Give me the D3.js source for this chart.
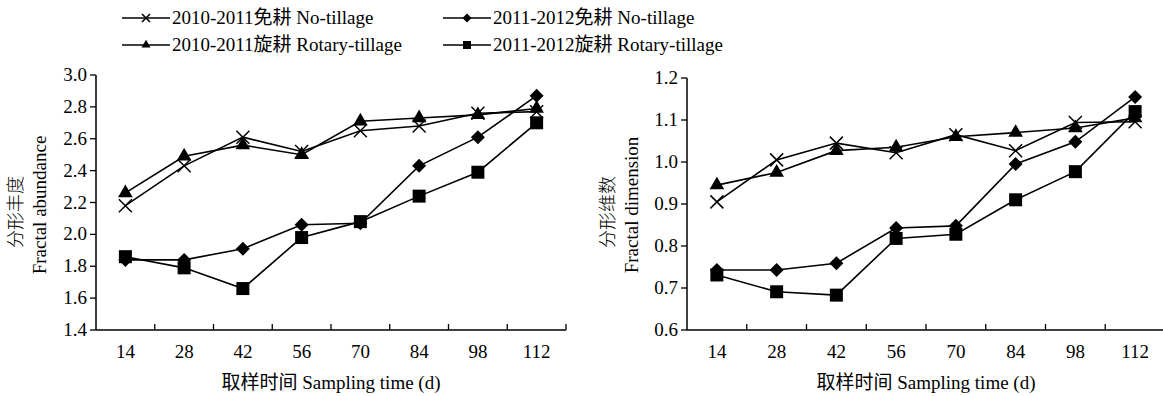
<!DOCTYPE html>
<html>
<head>
<meta charset="utf-8">
<script src="https://cdn.jsdelivr.net/npm/d3@7"></script>
<style>
  body { margin: 0; background: #fff; }
  svg text { font-family: "Liberation Serif", "Noto Sans CJK SC", serif; fill: #000; }
</style>
</head>
<body>
<svg id="chart" width="1163" height="396"></svg>
<script>
// sampling days
const days = ["14", "28", "42", "56", "70", "84", "98", "112"];

const seriesNames = [
  "2010-2011免耕 No-tillage",
  "2010-2011旋耕 Rotary-tillage",
  "2011-2012免耕 No-tillage",
  "2011-2012旋耕 Rotary-tillage"
];
const seriesSymbols = ["cross", "triangle", "diamond", "square"];

// fractal abundance
const abund1011NT = [2.18, 2.43, 2.61, 2.52, 2.65, 2.68, 2.76, 2.77];
const abund1011RT = [2.26, 2.49, 2.56, 2.50, 2.71, 2.73, 2.75, 2.79];
const abund1112NT = [1.84, 1.84, 1.91, 2.06, 2.07, 2.43, 2.61, 2.87];
const abund1112RT = [1.86, 1.79, 1.66, 1.98, 2.08, 2.24, 2.39, 2.70];

// fractal dimension
const dim1011NT = [0.905, 1.005, 1.045, 1.022, 1.065, 1.027, 1.094, 1.096];
const dim1011RT = [0.945, 0.975, 1.027, 1.035, 1.06, 1.07, 1.081, 1.105];
const dim1112NT = [0.743, 0.743, 0.759, 0.843, 0.848, 0.995, 1.048, 1.155];
const dim1112RT = [0.731, 0.691, 0.683, 0.818, 0.828, 0.91, 0.977, 1.12];

const abundTicks = [1.4, 1.6, 1.8, 2.0, 2.2, 2.4, 2.6, 2.8, 3.0];
const dimTicks = [0.6, 0.7, 0.8, 0.9, 1.0, 1.1, 1.2];

const svg = d3.select("#chart");

function marker(g, type, x, y, s, legend) {
  if (type === "cross") {
    const h = s / 2;
    g.append("path")
      .attr("d", `M${x - h},${y - h}L${x + h},${y + h}M${x - h},${y + h}L${x + h},${y - h}`)
      .attr("stroke", "#000").attr("stroke-width", legend ? 1.6 : 1.5).attr("fill", "none");
  } else if (type === "diamond") {
    const h = s / 2 + 0.5;
    g.append("path")
      .attr("d", `M${x},${y - h}L${x + h},${y}L${x},${y + h}L${x - h},${y}Z`)
      .attr("fill", "#000");
  } else {
    const area = { triangle: s * s * 0.55, square: s * s }[type];
    const sym = { triangle: d3.symbolTriangle, square: d3.symbolSquare }[type];
    g.append("path")
      .attr("d", d3.symbol().type(sym).size(area)())
      .attr("transform", `translate(${x},${y})`)
      .attr("fill", "#000");
  }
}

function panel(opt) {
  const g = svg.append("g");
  const x = d3.scaleBand().domain(days).range(opt.xr);
  const y = d3.scaleLinear().domain(opt.yd).range(opt.yr);

  // y axis
  g.append("line").attr("x1", opt.xr[0]).attr("x2", opt.xr[0])
    .attr("y1", opt.yr[0]).attr("y2", opt.yr[1]).attr("stroke", "#000").attr("stroke-width", 1.5);
  opt.ticks.forEach(t => {
    g.append("line").attr("x1", opt.xr[0] - 6).attr("x2", opt.xr[0])
      .attr("y1", y(t)).attr("y2", y(t)).attr("stroke", "#000").attr("stroke-width", 1.3);
    g.append("text").attr("x", opt.xr[0] - 9).attr("y", y(t) + 6)
      .attr("text-anchor", "end").style("font-size", "19px").text(t.toFixed(1));
  });

  // x axis
  g.append("line").attr("x1", opt.xr[0]).attr("x2", opt.xr[1])
    .attr("y1", opt.yr[0]).attr("y2", opt.yr[0]).attr("stroke", "#000").attr("stroke-width", 1.5);
  days.forEach(d => {
    const bx = x(d) + x.bandwidth();
    g.append("line").attr("x1", bx).attr("x2", bx)
      .attr("y1", opt.yr[0]).attr("y2", opt.yr[0] - 6).attr("stroke", "#000").attr("stroke-width", 1.3);
    g.append("text").attr("x", x(d) + x.bandwidth() / 2).attr("y", 358)
      .attr("text-anchor", "middle").style("font-size", "19px").text(d);
  });

  const cx = (opt.xr[0] + opt.xr[1]) / 2;
  g.append("text").attr("x", cx).attr("y", 389).attr("text-anchor", "middle")
    .style("font-size", "19px").text("取样时间 Sampling time (d)");

  g.append("text").attr("transform", `translate(${opt.titleX[0]},212) rotate(-90)`)
    .attr("text-anchor", "middle").style("font-size", "18px").style("font-weight", "300").text(opt.title[0]);
  g.append("text").attr("transform", `translate(${opt.titleX[1]},205) rotate(-90)`)
    .attr("text-anchor", "middle").style("font-size", "19px").text(opt.title[1]);

  const line = d3.line()
    .x((v, i) => x(days[i]) + x.bandwidth() / 2)
    .y(v => y(v));

  opt.series.forEach(vals => {
    g.append("path").attr("d", line(vals))
      .attr("fill", "none").attr("stroke", "#000").attr("stroke-width", 1.6);
  });
  opt.series.forEach((vals, k) => {
    vals.forEach((v, i) => {
      marker(g, seriesSymbols[k], x(days[i]) + x.bandwidth() / 2, y(v), 13, false);
    });
  });
}

panel({
  xr: [96, 566], yr: [330, 75], yd: [1.4, 3.0], ticks: abundTicks,
  title: ["分形丰度", "Fractal abundance"], titleX: [22, 46],
  series: [abund1011NT, abund1011RT, abund1112NT, abund1112RT]
});

panel({
  xr: [687, 1165], yr: [330, 78], yd: [0.6, 1.2], ticks: dimTicks,
  title: ["分形维数", "Fractal dimension"], titleX: [614, 638],
  series: [dim1011NT, dim1011RT, dim1112NT, dim1112RT]
});

// legend
const legendPos = [[122, 18], [122, 45], [443, 18], [443, 45]];
const lg = svg.append("g");
seriesNames.forEach((name, k) => {
  const [lx, ly] = legendPos[k];
  lg.append("line").attr("x1", lx).attr("x2", lx + 48).attr("y1", ly).attr("y2", ly)
    .attr("stroke", "#000").attr("stroke-width", 1.6);
  marker(lg, seriesSymbols[k], lx + 24, ly, 8, true);
  lg.append("text").attr("x", lx + 50).attr("y", ly + 6).style("font-size", "19px").text(name);
});
</script>
</body>
</html>
